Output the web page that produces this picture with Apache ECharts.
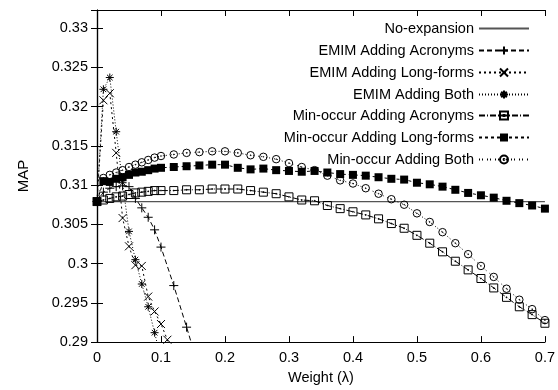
<!DOCTYPE html>
<html>
<head>
<meta charset="utf-8">
<script src="https://cdn.jsdelivr.net/npm/echarts@6.0.0/dist/echarts.min.js"></script>
<style>
  html, body { margin: 0; padding: 0; background: #fff; }
  #chart { width: 558px; height: 390px; }
</style>
</head>
<body>
<div id="chart"></div>
<script>
// x positions (lambda)
const noExpX = [0, 0.7];
const emimAcrX = [0, 0.01, 0.02, 0.03, 0.04, 0.05, 0.06, 0.07, 0.08, 0.09, 0.1, 0.12, 0.14, 0.16];
const emimLongX = [0, 0.01, 0.02, 0.03, 0.04, 0.05, 0.06, 0.07, 0.08, 0.09, 0.1, 0.11, 0.12];
const emimBothX = [0, 0.01, 0.02, 0.03, 0.04, 0.05, 0.06, 0.07, 0.08, 0.09, 0.1];
const minX = [0, 0.01, 0.02, 0.03, 0.04, 0.05, 0.06, 0.07, 0.08, 0.09, 0.1,
  0.12, 0.14, 0.16, 0.18, 0.2, 0.22, 0.24, 0.26, 0.28, 0.3,
  0.32, 0.34, 0.36, 0.38, 0.4, 0.42, 0.44, 0.46, 0.48, 0.5,
  0.52, 0.54, 0.56, 0.58, 0.6, 0.62, 0.64, 0.66, 0.68, 0.7];

// MAP values
const noExp = [0.3079, 0.3079];
const emimAcr = [0.3079, 0.3091, 0.3096, 0.3098, 0.3099, 0.3098, 0.3083, 0.3071, 0.3059, 0.3043, 0.3021, 0.2972, 0.2919, 0.2865];
const emimLong = [0.3079, 0.3208, 0.3217, 0.3141, 0.3058, 0.3022, 0.2998, 0.2997, 0.2958, 0.2939, 0.2923, 0.2903, 0.2875];
const emimBoth = [0.3079, 0.3222, 0.3237, 0.3168, 0.3103, 0.3041, 0.3005, 0.2974, 0.2945, 0.2912, 0.2879];
const minAcr = [0.3079, 0.3081, 0.3083, 0.3085, 0.3086, 0.3088, 0.3090, 0.3091, 0.3092, 0.3093, 0.3093,
  0.3093, 0.3094, 0.3094, 0.3095, 0.3095, 0.3095, 0.3093, 0.3091, 0.3089, 0.3085,
  0.3081, 0.3080, 0.3074, 0.3070, 0.3066, 0.3062, 0.3057, 0.3051, 0.3045, 0.3036,
  0.3026, 0.3015, 0.3003, 0.2992, 0.2981, 0.2969, 0.2957, 0.2945, 0.2935, 0.2924];
const minLong = [0.3079, 0.3105, 0.3104, 0.3108, 0.3110, 0.3113, 0.3116, 0.3117, 0.3119, 0.3121, 0.3122,
  0.3123, 0.3124, 0.3125, 0.3126, 0.3126, 0.3122, 0.3120, 0.3121, 0.3119, 0.3118,
  0.3117, 0.3118, 0.3116, 0.3114, 0.3113, 0.3112, 0.3110, 0.3108, 0.3107, 0.3103,
  0.3101, 0.3098, 0.3094, 0.3090, 0.3087, 0.3084, 0.3080, 0.3077, 0.3074, 0.3070];
const minBoth = [0.3079, 0.3109, 0.3113, 0.3116, 0.3119, 0.3123, 0.3126, 0.3129, 0.3132, 0.3135, 0.3137,
  0.3139, 0.3141, 0.3142, 0.3143, 0.3143, 0.3141, 0.3138, 0.3136, 0.3133, 0.3128,
  0.3123, 0.3119, 0.3112, 0.3106, 0.3102, 0.3096, 0.3089, 0.3082, 0.3075, 0.3064,
  0.3053, 0.3040, 0.3026, 0.3012, 0.2997, 0.2983, 0.2968, 0.2954, 0.2942, 0.2928];

const names = [
  'No-expansion',
  'EMIM Adding Acronyms',
  'EMIM Adding Long-forms',
  'EMIM Adding Both',
  'Min-occur Adding Acronyms',
  'Min-occur Adding Long-forms',
  'Min-occur Adding Both'
];

const FONT = 'Liberation Sans, Arial, Helvetica, sans-serif';
const FS = 14.5;

// marker shapes, stroked in black
const SYM_PLUS = 'path://M0,5H10M5,0V10';
const SYM_CROSS = 'path://M0,0L10,10M10,0L0,10';
const SYM_STAR = 'path://M0,5H10M5,0V10M1.5,1.5L8.5,8.5M8.5,1.5L1.5,8.5';
const SYM_BOX = 'path://M0,0H10V10H0ZM4.5,4.5H5.5V5.5H4.5Z';
const SYM_CIRC = 'path://M0,5A5,5 0 1,1 10,5A5,5 0 1,1 0,5ZM4.5,5A0.5,0.5 0 1,1 5.5,5A0.5,0.5 0 1,1 4.5,5Z';

const pairs = (xs, ys) => xs.map((x, i) => [x, ys[i]]);

function mkSeries(name, xs, ys, dash, symbol, size, filled) {
  return {
    name: name,
    type: 'line',
    data: pairs(xs, ys),
    symbol: symbol,
    symbolSize: size,
    lineStyle: { color: '#000', width: 1, type: dash },
    itemStyle: {
      color: filled ? '#000' : 'transparent',
      borderColor: '#000',
      borderWidth: filled ? 0 : 1
    },
    emphasis: { disabled: true },
    clip: true
  };
}

const series = [
  {
    name: names[0],
    type: 'line',
    data: pairs(noExpX, noExp),
    symbol: 'none',
    lineStyle: { color: '#555', width: 1.2, type: 'solid' },
    // keeps the legend sample a bare line
    itemStyle: { color: 'transparent', borderWidth: 0 },
    emphasis: { disabled: true }
  },
  mkSeries(names[1], emimAcrX, emimAcr, [5, 3], SYM_PLUS, 9, false),
  mkSeries(names[2], emimLongX, emimLong, [2, 3], SYM_CROSS, 8, false),
  mkSeries(names[3], emimBothX, emimBoth, [1, 2], SYM_STAR, 8, false),
  mkSeries(names[4], minX, minAcr, [6, 2, 1, 2], SYM_BOX, 8, false),
  mkSeries(names[5], minX, minLong, [3, 3], 'rect', 8, true),
  mkSeries(names[6], minX, minBoth, [1, 2, 1, 4], SYM_CIRC, 7.5, false)
];

// one legend per entry so the text lines up on the right
const legendTops = [29, 51, 73, 95, 116, 138, 160];
const legends = names.map((n, i) => ({
  data: [n],
  right: 28,
  top: legendTops[i] - 8,
  align: 'right',
  orient: 'vertical',
  itemWidth: 50,
  itemHeight: 10,
  padding: 0,
  selectedMode: false,
  textStyle: { fontFamily: FONT, fontSize: FS, color: '#000' }
}));

const axisLine = { show: true, lineStyle: { color: '#000', width: 1.2 } };
const tick = { show: true, inside: true, length: 6, lineStyle: { color: '#000' } };

const chart = echarts.init(document.getElementById('chart'));
chart.setOption({
  animation: false,
  textStyle: { fontFamily: FONT },
  grid: { left: 97, right: 12, top: 10, bottom: 45 },
  legend: legends,
  xAxis: [{
    type: 'value',
    min: 0,
    max: 0.7,
    interval: 0.1,
    name: 'Weight (λ)',
    nameLocation: 'middle',
    nameGap: 27,
    nameTextStyle: { fontFamily: FONT, fontSize: FS, color: '#000' },
    axisLine: axisLine,
    axisTick: tick,
    splitLine: { show: false },
    axisLabel: {
      fontFamily: FONT, fontSize: FS, color: '#000', margin: 8,
      formatter: v => String(+v.toFixed(2))
    }
  }, {
    type: 'value',
    position: 'top',
    min: 0,
    max: 0.7,
    interval: 0.1,
    axisLine: axisLine,
    axisTick: tick,
    axisLabel: { show: false },
    splitLine: { show: false }
  }],
  yAxis: [{
    type: 'value',
    min: 0.29,
    max: 0.3323,
    interval: 0.005,
    name: 'MAP',
    nameLocation: 'middle',
    nameGap: 66,
    nameTextStyle: { fontFamily: FONT, fontSize: 15, color: '#000' },
    axisLine: axisLine,
    axisTick: tick,
    splitLine: { show: false },
    axisLabel: {
      fontFamily: FONT, fontSize: FS, color: '#000', margin: 9,
      showMaxLabel: false,
      formatter: v => (v > 0.331 ? '' : String(+v.toFixed(3)))
    }
  }, {
    type: 'value',
    position: 'right',
    min: 0.29,
    max: 0.3323,
    interval: 0.005,
    axisLine: axisLine,
    axisTick: tick,
    axisLabel: { show: false },
    splitLine: { show: false }
  }],
  series: series
});
</script>
</body>
</html>
